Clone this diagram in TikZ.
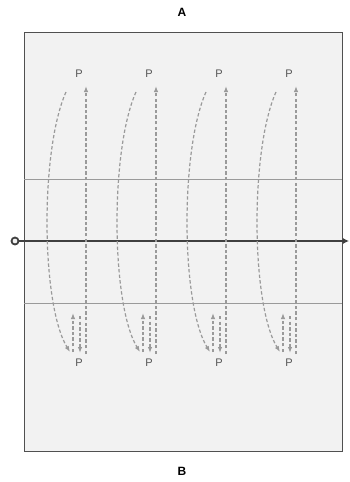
\documentclass[tikz,border=0pt]{standalone}
\usepackage{fontspec}
\setmainfont{Liberation Sans}
\usetikzlibrary{arrows.meta}
\definecolor{boxfill}{HTML}{F2F2F2}
\definecolor{boxline}{HTML}{505050}
\definecolor{thinline}{HTML}{9A9A9A}
\definecolor{dashcol}{HTML}{9A9A9A}
\definecolor{plabel}{HTML}{555555}
\begin{document}
\begin{tikzpicture}[x=1pt,y=-1pt,
  plab/.style={font=\fontsize{11}{13}\selectfont, text=plabel, inner sep=0pt},
  endlab/.style={font=\bfseries\fontsize{12}{14}\selectfont, inner sep=0pt},
  flow/.style={draw=dashcol, line width=1.2pt, dash pattern=on 3.4pt off 2.2pt, -{Latex[length=6pt,width=4.5pt]}},
  layer/.style={draw=thinline, line width=0.8pt},
  axis/.style={draw=black!75, line width=1.9pt}
]
\useasboundingbox (0,0) rectangle (349,482);
\node[draw=boxline, fill=boxfill, line width=1.4pt, minimum width=318pt, minimum height=419pt, inner sep=0pt, anchor=north west] (box) at (24,32) {};
\node[endlab] (A) at (182,12) {A};
\node[endlab] (B) at (182,471) {B};
\coordinate (l1a) at (24,179); \coordinate (l1b) at (342,179);
\coordinate (l2a) at (24,303); \coordinate (l2b) at (342,303);
\draw[layer] (l1a) -- (l1b);
\draw[layer] (l2a) -- (l2b);
\coordinate (axR) at (349,241);
\node[draw=black!75, fill=boxfill, line width=1.8pt, circle, minimum size=7pt, inner sep=0pt] (axc) at (15,241) {};
\draw[axis, -{Latex[length=6pt,width=6pt]}] (axc) -- (axR);
\foreach \i/\x in {1/79,2/149,3/219,4/289}{
  \node[plab] (pt\i) at (\x,74) {P};
  \node[plab] (pb\i) at (\x,363) {P};
  \coordinate (cs\i) at (\x-13,92);
  \coordinate (c1\i) at (\x-39,150);
  \coordinate (c2\i) at (\x-38,305);
  \coordinate (ce\i) at (\x-9,352);
  \coordinate (vb\i) at (\x+7,354);
  \coordinate (vt\i) at (\x+7,86);
  \coordinate (ub\i) at (\x-6,352);
  \coordinate (ut\i) at (\x-6,313);
  \coordinate (db\i) at (\x+1,353);
  \coordinate (dt\i) at (\x+1,316);
  \draw[flow] (cs\i) .. controls (c1\i) and (c2\i) .. (ce\i);
  \draw[flow] (vb\i) -- (vt\i);
  \draw[flow] (ub\i) -- (ut\i);
  \draw[flow] (dt\i) -- (db\i);
}
\end{tikzpicture}
\end{document}
